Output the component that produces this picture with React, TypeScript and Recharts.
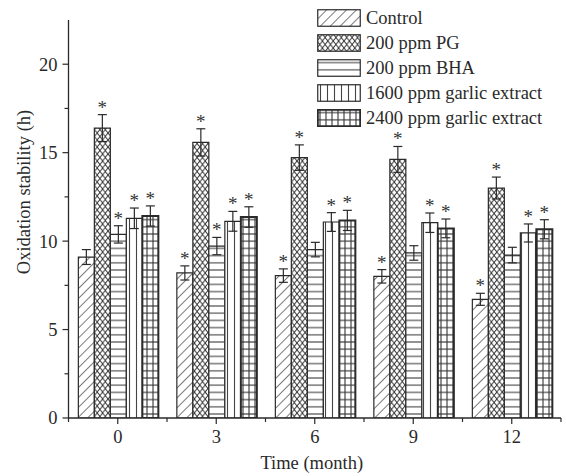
import React from "react";
import { BarChart, Bar, XAxis, YAxis, ErrorBar, LabelList, Legend } from "recharts";

const months = ["0", "3", "6", "9", "12"];

const control = [9.1, 8.2, 8.05, 8.01, 6.71];
const controlErr = [0.42, 0.4, 0.38, 0.38, 0.34];
const controlSig = [false, true, true, true, true];

const pg = [16.39, 15.58, 14.72, 14.62, 13.0];
const pgErr = [0.76, 0.77, 0.72, 0.73, 0.62];
const pgSig = [true, true, true, true, true];

const bha = [10.38, 9.72, 9.52, 9.33, 9.21];
const bhaErr = [0.49, 0.49, 0.41, 0.41, 0.44];
const bhaSig = [true, true, false, false, false];

const garlic1600 = [11.29, 11.12, 11.08, 11.04, 10.46];
const garlic1600Err = [0.58, 0.56, 0.53, 0.55, 0.51];
const garlic1600Sig = [true, true, true, true, true];

const garlic2400 = [11.42, 11.36, 11.17, 10.72, 10.67];
const garlic2400Err = [0.57, 0.58, 0.57, 0.53, 0.54];
const garlic2400Sig = [true, true, true, true, true];

const yTicks = [0, 2.5, 5, 7.5, 10, 12.5, 15, 17.5, 20];

const FONT = "'Liberation Serif', 'Times New Roman', serif";
const INK = "#2a2a2a";
const TICK_SIZE = 6;
const TICK_MARGIN = 5;

const data = months.map((m, i) => ({
  month: m,
  control: control[i],
  controlErr: controlErr[i],
  controlSig: controlSig[i],
  pg: pg[i],
  pgErr: pgErr[i],
  pgSig: pgSig[i],
  bha: bha[i],
  bhaErr: bhaErr[i],
  bhaSig: bhaSig[i],
  g1600: garlic1600[i],
  g1600Err: garlic1600Err[i],
  g1600Sig: garlic1600Sig[i],
  g2400: garlic2400[i],
  g2400Err: garlic2400Err[i],
  g2400Sig: garlic2400Sig[i],
}));

const series = [
  { key: "control", name: "Control", pattern: "pat-diag", sw: 1.2 },
  { key: "pg", name: "200 ppm PG", pattern: "pat-cross", sw: 1.2 },
  { key: "bha", name: "200 ppm BHA", pattern: "pat-horiz", sw: 1.2 },
  { key: "g1600", name: "1600 ppm garlic extract", pattern: "pat-vert", sw: 1.2 },
  { key: "g2400", name: "2400 ppm garlic extract", pattern: "pat-grid", sw: 2 },
];

const YTick = (props: any) => {
  const { x, y, payload } = props;
  const major = payload.value % 5 === 0;
  const axisX = x + TICK_MARGIN + TICK_SIZE;
  return (
    <g>
      <line x1={axisX - (major ? TICK_SIZE : 4)} x2={axisX} y1={y} y2={y} stroke={INK} strokeWidth={1.2} />
      {major && (
        <text x={x} y={y} dy="0.35em" textAnchor="end" fontSize={18.5} fontFamily={FONT} fill={INK}>
          {payload.value}
        </text>
      )}
    </g>
  );
};

const XTick = (props: any) => {
  const { x, y, payload, index, visibleTicksCount } = props;
  const half = payload.offset || 0;
  const axisY = y - TICK_SIZE - TICK_MARGIN;
  return (
    <g>
      <line x1={x} x2={x} y1={axisY} y2={axisY + TICK_SIZE} stroke={INK} strokeWidth={1.2} />
      <line x1={x - half} x2={x - half} y1={axisY} y2={axisY + 4} stroke={INK} strokeWidth={1.2} />
      {index === visibleTicksCount - 1 && (
        <line x1={x + half} x2={x + half} y1={axisY} y2={axisY + 4} stroke={INK} strokeWidth={1.2} />
      )}
      <text x={x} y={y} dy="0.75em" textAnchor="middle" fontSize={18.5} fontFamily={FONT} fill={INK}>
        {payload.value}
      </text>
    </g>
  );
};

const starLabel = (sigKey: string, errKey: string) => (props: any) => {
  const vb = props.viewBox || {};
  const x = props.x ?? vb.x;
  const y = props.y ?? vb.y;
  const width = props.width ?? vb.width;
  const height = props.height ?? vb.height;
  const index = props.index;
  const row: any = data[index];
  if (!row || !row[sigKey]) return null;
  const value = Number(props.value);
  const perUnit = height / value;
  const errTop = y - row[errKey] * perUnit;
  return (
    <text
      x={x + width / 2}
      y={errTop - 1}
      textAnchor="middle"
      fontSize={19}
      fontFamily={FONT}
      fill="#333"
      stroke="none"
    >
      *
    </text>
  );
};

const LegendBox = () => (
  <div style={{ fontFamily: FONT, fontSize: 18.5, color: INK }}>
    {series.map((s) => (
      <div key={s.key} style={{ display: "flex", alignItems: "center", height: 25 }}>
        <svg width={44} height={18} style={{ display: "block" }}>
          <rect x={0.75} y={0.75} width={42.5} height={16.5} fill={`url(#${s.pattern})`} stroke={INK} strokeWidth={s.sw} />
        </svg>
        <span style={{ marginLeft: 5, lineHeight: "20px", whiteSpace: "nowrap" }}>{s.name}</span>
      </div>
    ))}
  </div>
);

export default function App() {
  return (
    <div style={{ position: "absolute", left: 0, top: 0 }}>
      <BarChart
        width={566}
        height={476}
        data={data}
        margin={{ top: 20, right: 5, bottom: 0, left: 0 }}
        barCategoryGap="10%"
        barGap={0}
      >
        <defs>
          <pattern id="pat-diag" width={7} height={7} patternUnits="userSpaceOnUse" patternTransform="rotate(45)">
            <rect width={7} height={7} fill="#fff" />
            <line x1={0} y1={0} x2={0} y2={7} stroke="#333" strokeWidth={1.3} />
          </pattern>
          <pattern id="pat-cross" width={5.4} height={7} patternUnits="userSpaceOnUse">
            <rect width={5.4} height={7} fill="#fff" />
            <line x1={0} y1={0} x2={5.4} y2={7} stroke="#333" strokeWidth={1} />
            <line x1={5.4} y1={0} x2={0} y2={7} stroke="#333" strokeWidth={1} />
          </pattern>
          <pattern id="pat-horiz" width={8} height={7.2} patternUnits="userSpaceOnUse">
            <rect width={8} height={7.2} fill="#fff" />
            <line x1={0} y1={3.6} x2={8} y2={3.6} stroke="#444" strokeWidth={1.1} />
          </pattern>
          <pattern id="pat-vert" width={7} height={8} patternUnits="userSpaceOnUse">
            <rect width={7} height={8} fill="#fff" />
            <line x1={3.5} y1={0} x2={3.5} y2={8} stroke="#444" strokeWidth={1.1} />
          </pattern>
          <pattern id="pat-grid" width={6} height={7.2} patternUnits="userSpaceOnUse">
            <rect width={6} height={7.2} fill="#fff" />
            <line x1={0} y1={3.6} x2={6} y2={3.6} stroke="#333" strokeWidth={1.1} />
            <line x1={3} y1={0} x2={3} y2={7.2} stroke="#333" strokeWidth={1.1} />
          </pattern>
        </defs>
        <XAxis
          dataKey="month"
          height={58}
          tickSize={TICK_SIZE}
          tickMargin={TICK_MARGIN}
          tickLine={false}
          axisLine={{ stroke: INK, strokeWidth: 1.3 }}
          tick={<XTick />}
          interval={0}
          label={({ viewBox }: any) => (
            <text
              x={viewBox.x + viewBox.width / 2 - 3}
              y={viewBox.y + 51}
              textAnchor="middle"
              fontSize={18.5}
              fontFamily={FONT}
              fill={INK}
            >
              Time (month)
            </text>
          )}
        />
        <YAxis
          width={68.5}
          domain={[0, 22.5]}
          ticks={yTicks}
          interval={0}
          tickSize={TICK_SIZE}
          tickMargin={TICK_MARGIN}
          tickLine={false}
          axisLine={{ stroke: INK, strokeWidth: 1.3 }}
          tick={<YTick />}
          allowDataOverflow
          label={() => (
            <text
              x={24}
              y={192}
              transform="rotate(-90 24 192)"
              textAnchor="middle"
              dominantBaseline="central"
              fontSize={18.5}
              fontFamily={FONT}
              fill={INK}
            >
              Oxidation stability (h)
            </text>
          )}
        />
        <Legend
          layout="vertical"
          align="center"
          verticalAlign="middle"
          width={240}
          height={130}
          content={<LegendBox />}
          wrapperStyle={{ left: 317, top: 5 }}
        />
        {series.map((s) => (
          <Bar
            key={s.key}
            dataKey={s.key}
            name={s.name}
            fill={`url(#${s.pattern})`}
            stroke={INK}
            strokeWidth={s.sw}
            isAnimationActive={false}
          >
            <ErrorBar dataKey={`${s.key}Err`} width={4.5} stroke={INK} strokeWidth={1.2} direction="y" />
            <LabelList dataKey={s.key} content={starLabel(`${s.key}Sig`, `${s.key}Err`)} />
          </Bar>
        ))}
      </BarChart>
    </div>
  );
}
